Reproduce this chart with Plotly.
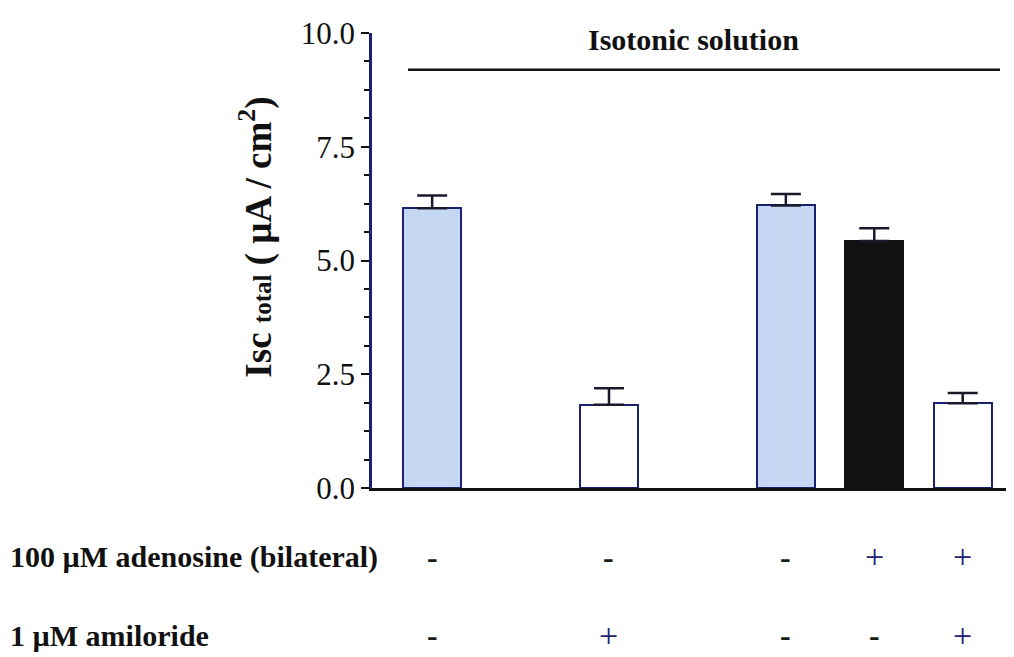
import plotly.graph_objects as go

# ---- data ----
conditions = ["Control A", "Amiloride", "Control B", "Adenosine", "Adenosine + amiloride"]
isc_mean = [6.15, 1.83, 6.21, 5.43, 1.86]
isc_sem = [0.28, 0.36, 0.25, 0.28, 0.23]
adenosine = ["-", "-", "-", "+", "+"]
amiloride = ["-", "+", "-", "-", "+"]
y_ticks = [0, 2.5, 5.0, 7.5, 10.0]

# category order with spacer slots
cat_order = ["Control A", "gap1", "Amiloride", "gap2", "Control B", "Adenosine", "Adenosine + amiloride"]

fill_colors = ["#c6d7f4", "#ffffff", "#c6d7f4", "#121212", "#ffffff"]
line_colors = ["#1c2070", "#1c2070", "#1c2070", "#121212", "#1c2070"]

OFF = 8  # page body margin
W, H = 1014, 657
# target plot box in screen px: x 372..1014, y 30..488
L, T = 372 - OFF, 30 - OFF
R = OFF
B = H - (488 - OFF)
pw, ph = W - L - R, H - T - B


def px_x(px):
    return (px - OFF - L) / pw


def px_y(py):
    return (H - B - (py - OFF)) / ph


fig = go.Figure()
fig.add_trace(go.Bar(
    x=conditions, y=isc_mean, width=0.66,
    marker=dict(color=fill_colors, line=dict(color=line_colors, width=2)),
    error_y=dict(type="data", array=isc_sem, arrayminus=[0] * len(isc_sem),
                 symmetric=False, color="#1a1a2a", thickness=2.5, width=15),
    showlegend=False,
))

serif = "Liberation Serif"
annotations = []
# y-axis title
annotations.append(dict(
    text="<b>Isc <span style='font-size:25px'>total</span> ( µA / cm<sup>2</sup>)</b>",
    x=px_x(256), y=px_y(236), xref="paper", yref="paper",
    textangle=-90, showarrow=False, font=dict(family=serif, size=37, color="#111111"),
    xanchor="center", yanchor="middle"))
# title
annotations.append(dict(
    text="<b>Isotonic solution</b>", x=px_x(693), y=px_y(37), xref="paper", yref="paper",
    showarrow=False, font=dict(family=serif, size=30, color="#111111"),
    xanchor="center", yanchor="middle"))
# row labels
annotations.append(dict(
    text="<b>100 µM adenosine (bilateral)</b>", x=px_x(8), y=px_y(557),
    xref="paper", yref="paper", showarrow=False, xanchor="left", yanchor="middle",
    font=dict(family=serif, size=30, color="#111111")))
annotations.append(dict(
    text="<b>1 µM amiloride</b>", x=px_x(8), y=px_y(636),
    xref="paper", yref="paper", showarrow=False, xanchor="left", yanchor="middle",
    font=dict(family=serif, size=30, color="#111111")))
for cond, a, m in zip(conditions, adenosine, amiloride):
    for sign, py in ((a, 557), (m, 636)):
        annotations.append(dict(
            text="<b>-</b>" if sign == "-" else "+", x=cond, y=px_y(py), xref="x", yref="paper",
            showarrow=False, xanchor="center", yanchor="middle",
            font=dict(family=serif, size=34 if sign == "+" else 32,
                      color="#1a1a1a" if sign == "-" else "#1c2070")))

shapes = [dict(type="line", xref="paper", yref="paper",
               x0=px_x(408), x1=px_x(1000), y0=px_y(67), y1=px_y(67),
               line=dict(color="#111111", width=2.5))]

fig.update_layout(
    width=W, height=H,
    margin=dict(l=L, r=R, t=T, b=B, pad=0),
    plot_bgcolor="white", paper_bgcolor="white",
    annotations=annotations, shapes=shapes,
    xaxis=dict(type="category", categoryorder="array", categoryarray=cat_order,
               range=[-0.68, 6.58], showticklabels=False, ticks="",
               showline=True, linecolor="#111111", linewidth=2.5,
               showgrid=False, zeroline=False),
    yaxis=dict(range=[0, 10], tickvals=y_ticks, tickformat=".1f",
               ticks="outside", ticklen=8, tickwidth=2, tickcolor="#111111",
               showline=True, linecolor="#1c2070", linewidth=2.5,
               showgrid=False, zeroline=False,
               tickfont=dict(family=serif, size=31, color="#111111"),
               minor=dict(dtick=0.625, ticks="outside", ticklen=5, tickwidth=2,
                          tickcolor="#111111", showgrid=False)),
    bargap=0,
)

fig.write_html("out.html")
